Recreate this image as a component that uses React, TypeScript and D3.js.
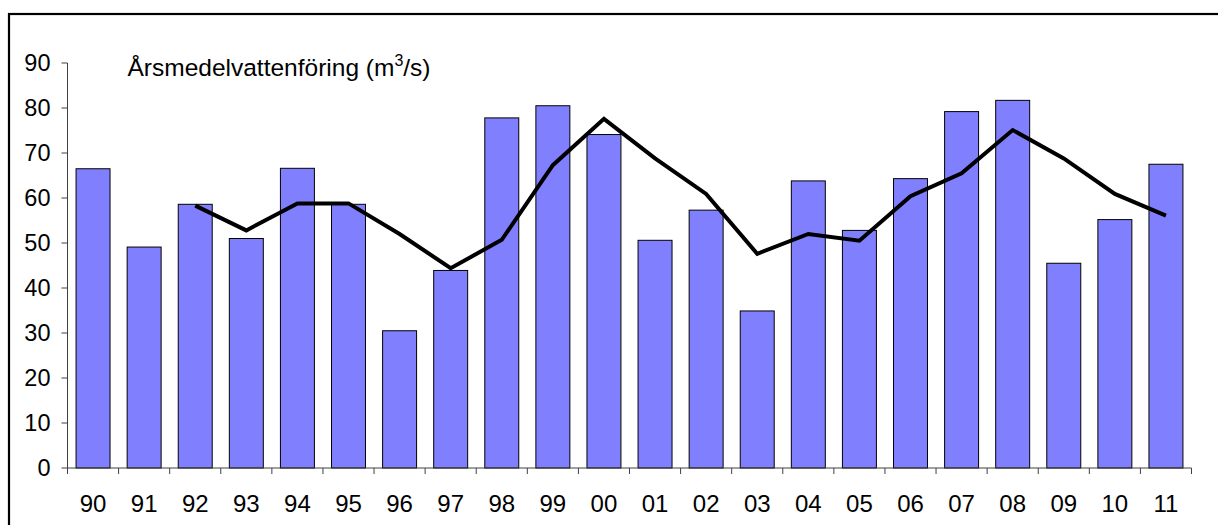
import React from "react";
import * as d3 from "d3";

const years = ["90","91","92","93","94","95","96","97","98","99","00","01","02","03","04","05","06","07","08","09","10","11"];
const flow = [66.5, 49.1, 58.6, 51.0, 66.6, 58.6, 30.5, 43.9, 77.8, 80.5, 74.1, 50.6, 57.3, 34.9, 63.8, 52.8, 64.3, 79.2, 81.7, 45.5, 55.2, 67.5];
const runningMean: (number | null)[] = [null, null, 58.3, 52.8, 58.8, 58.8, 52.0, 44.4, 50.7, 67.3, 77.6, 68.8, 60.9, 47.6, 52.0, 50.5, 60.4, 65.5, 75.1, 68.8, 60.9, 56.1];
const yTicks = [0, 10, 20, 30, 40, 50, 60, 70, 80, 90];
const title = "Årsmedelvattenföring (m";

export default function App() {
  const W = 1218, H = 525;
  const x0 = 67.5, x1 = 1191.5, yBottom = 468, yTop = 63;
  const x = d3.scaleBand<string>().domain(years).range([x0, x1]).paddingInner(0.335).paddingOuter(0.1675);
  const xTick = d3.scaleLinear().domain([0, years.length]).range([x0, x1]);
  const y = d3.scaleLinear().domain([0, 90]).range([yBottom, yTop]);
  const line = d3.line<[string, number | null]>()
    .defined(d => d[1] !== null)
    .x(d => (x(d[0]) as number) + x.bandwidth() / 2)
    .y(d => y(d[1] as number));
  const pts: [string, number | null][] = years.map((yr, i) => [yr, runningMean[i]]);
  const font = "'Liberation Sans', Arial, sans-serif";
  return (
    <svg width={W} height={H} style={{ position: "absolute", left: 0, top: 0, background: "#fff" }} fontFamily={font}>
      <rect x={9} y={14} width={W + 20} height={H + 20} fill="#fff" stroke="#000" strokeWidth={2.2} />
      {flow.map((v, i) => (
        <rect key={years[i]} x={x(years[i])} y={y(v)} width={x.bandwidth()} height={yBottom - y(v)}
          fill="#8080FF" stroke="#000" strokeWidth={1} />
      ))}
      <path d={line(pts) || ""} fill="none" stroke="#000" strokeWidth={4} strokeLinejoin="miter" />
      {/* y axis */}
      <line x1={x0} x2={x0} y1={yTop} y2={yBottom} stroke="#404040" strokeWidth={1} />
      {yTicks.map(t => (
        <g key={t}>
          <line x1={x0 - 6} x2={x0} y1={y(t)} y2={y(t)} stroke="#404040" strokeWidth={1} />
          <text x={50.5} y={y(t)} dy="0.36em" textAnchor="end" fontSize={23.5} fill="#000">{t}</text>
        </g>
      ))}
      {/* x axis */}
      <line x1={x0} x2={x1} y1={yBottom} y2={yBottom} stroke="#404040" strokeWidth={1} />
      {d3.range(years.length + 1).map(i => (
        <line key={i} x1={xTick(i)} x2={xTick(i)} y1={yBottom} y2={yBottom + 6} stroke="#404040" strokeWidth={1} />
      ))}
      {years.map(yr => (
        <text key={yr} x={(x(yr) as number) + x.bandwidth() / 2} y={511.5} textAnchor="middle" fontSize={24} fill="#000">{yr}</text>
      ))}
      <text x={127.5} y={76} fontSize={24.5} fill="#000">
        {title}
        <tspan dy={-10} fontSize={16}>3</tspan>
        <tspan dy={10}>/s)</tspan>
      </text>
    </svg>
  );
}
